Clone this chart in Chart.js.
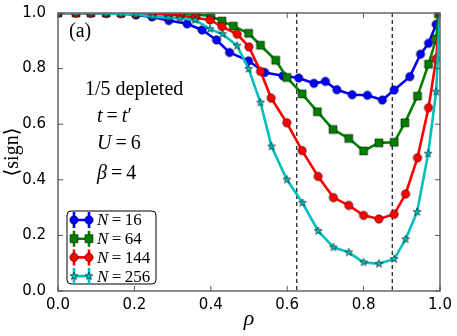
<!DOCTYPE html>
<html>
<head>
<meta charset="utf-8">
<script src="https://cdn.jsdelivr.net/npm/chart.js@4.4.1/dist/chart.umd.min.js"></script>
<style>
  html, body { margin: 0; padding: 0; background: #fff; }
  #wrap { width: 457px; height: 336px; }
</style>
</head>
<body>
<div id="wrap"><canvas id="c" width="457" height="336"></canvas></div>
<script>
// values
const rho16 = [0, 0.047, 0.086, 0.126, 0.165, 0.204, 0.246, 0.29, 0.338, 0.377, 0.415, 0.449, 0.499, 0.541, 0.589, 0.63, 0.67, 0.70, 0.73, 0.77, 0.81, 0.849, 0.88, 0.921, 0.949, 0.97, 0.99, 1.0];
const sign16 = [1, 1, 1, 0.999, 0.999, 0.993, 0.986, 0.973, 0.961, 0.939, 0.903, 0.858, 0.828, 0.786, 0.774, 0.766, 0.747, 0.754, 0.724, 0.706, 0.704, 0.687, 0.723, 0.771, 0.852, 0.891, 0.959, 1.0];

const rho64 = [0, 0.047, 0.086, 0.126, 0.165, 0.204, 0.246, 0.29, 0.322, 0.361, 0.40, 0.429, 0.459, 0.499, 0.53, 0.57, 0.599, 0.639, 0.679, 0.72, 0.761, 0.80, 0.84, 0.88, 0.908, 0.941, 0.97, 0.99, 0.996];
const sign64 = [1, 1, 1, 1, 1, 0.999, 0.998, 0.997, 0.996, 0.995, 0.989, 0.971, 0.953, 0.927, 0.884, 0.83, 0.768, 0.709, 0.645, 0.581, 0.549, 0.504, 0.533, 0.535, 0.605, 0.701, 0.816, 0.907, 0.997];

const rho144 = [0, 0.047, 0.086, 0.126, 0.165, 0.204, 0.246, 0.289, 0.319, 0.359, 0.398, 0.429, 0.469, 0.50, 0.53, 0.558, 0.599, 0.639, 0.681, 0.721, 0.761, 0.80, 0.84, 0.88, 0.91, 0.941, 0.97, 0.99, 1.0];
const sign144 = [1, 1, 1, 1, 0.999, 0.998, 0.996, 0.995, 0.991, 0.983, 0.975, 0.951, 0.924, 0.878, 0.79, 0.694, 0.605, 0.505, 0.412, 0.336, 0.308, 0.272, 0.259, 0.276, 0.349, 0.479, 0.659, 0.835, 1.0];

const rho256 = [0, 0.047, 0.086, 0.126, 0.165, 0.204, 0.248, 0.289, 0.319, 0.359, 0.398, 0.431, 0.469, 0.499, 0.53, 0.559, 0.599, 0.64, 0.681, 0.721, 0.761, 0.80, 0.84, 0.88, 0.91, 0.94, 0.969, 0.99, 1.0];
const sign256 = [1, 1, 1, 0.998, 0.996, 0.995, 0.987, 0.983, 0.98, 0.975, 0.942, 0.924, 0.882, 0.799, 0.678, 0.52, 0.401, 0.317, 0.216, 0.157, 0.139, 0.103, 0.098, 0.115, 0.186, 0.284, 0.494, 0.717, 1.0];

const seriesLabels = ["16", "64", "144", "256"];
const xTicks = [0, 0.2, 0.4, 0.6, 0.8, 1.0];
const yTicks = [0, 0.2, 0.4, 0.6, 0.8, 1.0];
const dashedRho = [0.625, 0.875];

const colors = ["#0000ff", "#008000", "#ff0000", "#00bfbf"];
const markers = ["circle", "square", "circle", "star"];

function pts(xs, ys) {
  return xs.map((x, i) => ({ x: x, y: ys[i] }));
}

function drawMarker(ctx, kind, x, y, fill) {
  ctx.save();
  ctx.fillStyle = fill;
  ctx.strokeStyle = "rgba(0,0,0,0.75)";
  ctx.lineWidth = 0.7;
  ctx.beginPath();
  if (kind == "circle") {
    ctx.arc(x, y, 4.2, 0, Math.PI * 2);
  } else if (kind == "square") {
    ctx.rect(x - 4, y - 4, 8, 8);
  } else {
    const ro = 4.2, ri = 1.7;
    for (let k = 0; k < 10; k++) {
      const r = k % 2 ? ri : ro;
      const a = -Math.PI / 2 + k * Math.PI / 5;
      if (k == 0) ctx.moveTo(x + r * Math.cos(a), y + r * Math.sin(a));
      else ctx.lineTo(x + r * Math.cos(a), y + r * Math.sin(a));
    }
    ctx.closePath();
  }
  ctx.fill();
  ctx.stroke();
  ctx.restore();
}

function markerImage(kind, fill) {
  const c = document.createElement("canvas");
  c.width = 12; c.height = 12;
  drawMarker(c.getContext("2d"), kind, 6, 6, fill);
  return c;
}

const series = [pts(rho16, sign16), pts(rho64, sign64), pts(rho144, sign144), pts(rho256, sign256)];

const datasets = series.map((d, i) => ({
  label: "N=" + seriesLabels[i],
  data: d,
  showLine: true,
  borderColor: colors[i],
  borderWidth: 2.6,
  pointStyle: markerImage(markers[i], colors[i]),
  pointRadius: 5,
  order: 4 - i,
}));

const serif = "'Liberation Serif', 'DejaVu Serif', serif";

function mathText(ctx, parts, x, y, size) {
  // parts: [text, italic]
  let cx = x;
  for (const p of parts) {
    ctx.font = (p[1] ? "italic " : "") + size + "px " + serif;
    ctx.fillText(p[0], cx, y);
    cx += ctx.measureText(p[0]).width;
  }
}

const decor = {
  id: "decor",
  beforeDatasetsDraw(chart) {
    const ctx = chart.ctx;
    const a = chart.chartArea;
    const xs = chart.scales.x;
    ctx.save();
    ctx.strokeStyle = "#000";
    ctx.lineWidth = 1.1;
    ctx.setLineDash([4, 3]);
    for (const r of dashedRho) {
      const px = xs.getPixelForValue(r);
      ctx.beginPath();
      ctx.moveTo(px, a.top);
      ctx.lineTo(px, a.bottom);
      ctx.stroke();
    }
    ctx.restore();
  },
  afterDraw(chart) {
    const ctx = chart.ctx;
    const a = chart.chartArea;
    const xs = chart.scales.x, ys = chart.scales.y;
    ctx.save();
    // frame
    ctx.strokeStyle = "#6e6e6e";
    ctx.lineWidth = 1.6;
    ctx.strokeRect(a.left, a.top, a.right - a.left, a.bottom - a.top);
    // inward ticks on all sides
    ctx.lineWidth = 1;
    ctx.strokeStyle = "#555";
    for (const t of xTicks) {
      const px = xs.getPixelForValue(t);
      ctx.beginPath();
      ctx.moveTo(px, a.bottom); ctx.lineTo(px, a.bottom - 5);
      ctx.moveTo(px, a.top); ctx.lineTo(px, a.top + 5);
      ctx.stroke();
    }
    for (const t of yTicks) {
      const py = ys.getPixelForValue(t);
      ctx.beginPath();
      ctx.moveTo(a.left, py); ctx.lineTo(a.left + 5, py);
      ctx.moveTo(a.right, py); ctx.lineTo(a.right - 5, py);
      ctx.stroke();
    }

    // annotations
    const th = "\u2009";
    ctx.fillStyle = "#000";
    ctx.textBaseline = "middle";
    ctx.textAlign = "left";
    mathText(ctx, [["(a)", false]], 69, 32, 20);
    mathText(ctx, [["1/5 depleted", false]], 85, 90, 20);
    mathText(ctx, [["t", true], [th + "=" + th, false], ["t", true], ["\u2032", false]], 97, 117, 20);
    mathText(ctx, [["U", true], [th + "=" + th + "6", false]], 97, 144, 20);
    mathText(ctx, [["\u03b2", true], [th + "=" + th + "4", false]], 97, 174, 20);

    // axis titles
    ctx.textAlign = "center";
    ctx.font = "italic 22px " + serif;
    ctx.fillText("\u03c1", 249, 319);
    ctx.save();
    ctx.translate(13, 152);
    ctx.rotate(-Math.PI / 2);
    ctx.font = "20px " + serif;
    ctx.fillText("\u27e8sign\u27e9", 0, 0);
    ctx.restore();

    // legend
    const lx = 67, ly = 211, lw = 89, lh = 73;
    ctx.beginPath();
    ctx.roundRect(lx, ly, lw, lh, 4);
    ctx.fillStyle = "#fff";
    ctx.fill();
    ctx.strokeStyle = "#000";
    ctx.lineWidth = 1;
    ctx.stroke();
    ctx.textAlign = "left";
    for (let i = 0; i < 4; i++) {
      const y = 220 + i * 18.7;
      const x1 = 74, x2 = 89;
      ctx.strokeStyle = colors[i];
      ctx.lineWidth = 2.6;
      ctx.beginPath();
      ctx.moveTo(x1, y); ctx.lineTo(x2, y);
      ctx.moveTo(x1, y - 8); ctx.lineTo(x1, y + 8);
      ctx.moveTo(x2, y - 8); ctx.lineTo(x2, y + 8);
      ctx.stroke();
      drawMarker(ctx, markers[i], x1, y, colors[i]);
      drawMarker(ctx, markers[i], x2, y, colors[i]);
      ctx.fillStyle = "#000";
      mathText(ctx, [["N", true], [th + "=" + th + seriesLabels[i], false]], 97, y + 1, 17);
    }
    ctx.restore();
  }
};

new Chart(document.getElementById("c"), {
  type: "scatter",
  data: { datasets },
  options: {
    responsive: false,
    animation: false,
    events: [],
    layout: { padding: { top: 12, right: 17, left: 0, bottom: 0 } },
    plugins: { legend: { display: false }, tooltip: { enabled: false } },
    scales: {
      x: {
        type: "linear",
        min: 0, max: 1,
        afterBuildTicks: (s) => { s.ticks = xTicks.map((v) => ({ value: v })); },
        afterFit: (s) => { s.height = 45; },
        grid: { display: false },
        border: { display: false },
        ticks: {
          color: "#000",
          font: { family: "'DejaVu Sans'", size: 15 },
          padding: -3,
          maxRotation: 0,
          callback: (v) => v.toFixed(1),
        },
      },
      y: {
        type: "linear",
        min: 0, max: 1,
        afterBuildTicks: (s) => { s.ticks = yTicks.map((v) => ({ value: v })); },
        afterFit: (s) => { s.width = 58; },
        grid: { display: false },
        border: { display: false },
        ticks: {
          color: "#000",
          font: { family: "'DejaVu Sans'", size: 15 },
          padding: 4,
          callback: (v) => v.toFixed(1),
        },
      },
    },
  },
  plugins: [decor],
});
</script>
</body>
</html>
